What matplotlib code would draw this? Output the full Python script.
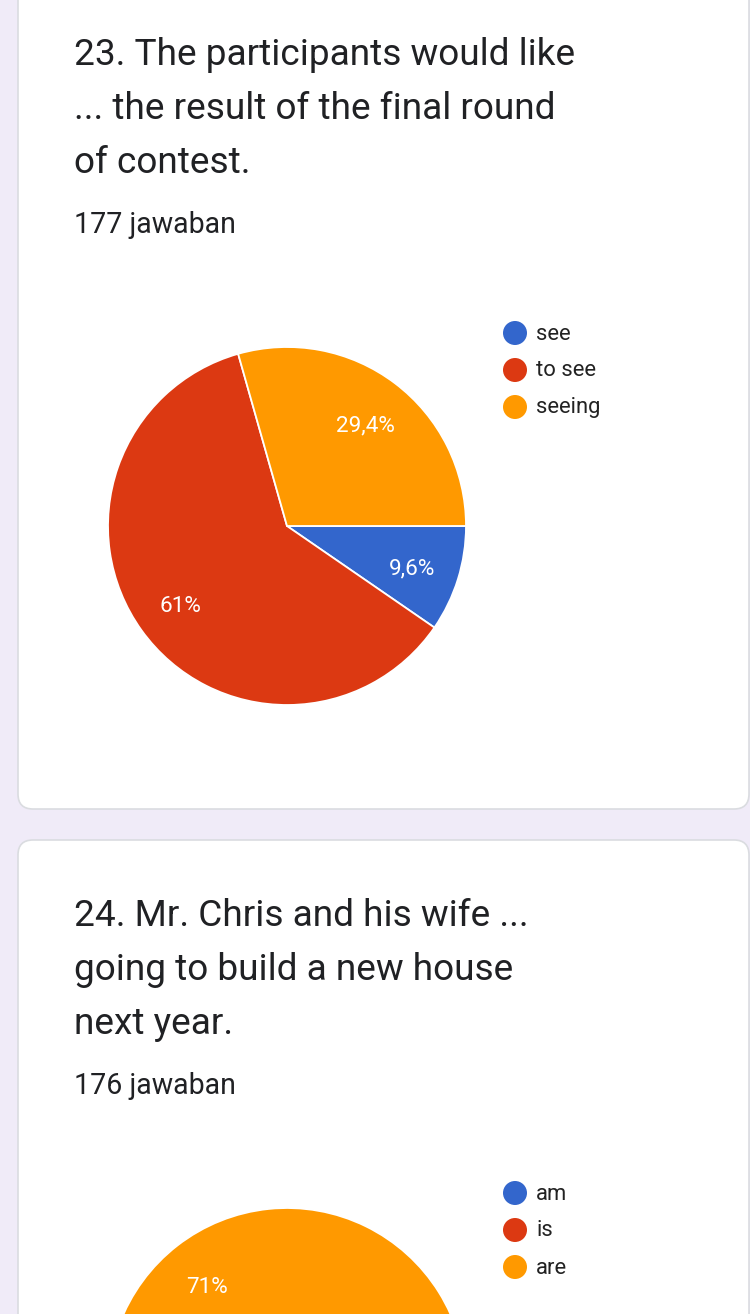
import matplotlib
matplotlib.use("Agg")
import matplotlib.pyplot as plt
from matplotlib.patches import FancyBboxPatch, Ellipse

# ---- data ----
q1_title = ["23. The participants would like", "... the result of the final round", "of contest."]
q1_count = "177 jawaban"
q1_labels = ["see", "to see", "seeing"]
q1_values = [9.6, 61.0, 29.4]

q2_title = ["24. Mr. Chris and his wife ...", "going to build a new house", "next year."]
q2_count = "176 jawaban"
q2_labels = ["am", "is", "are"]
q2_values = [4.5, 24.5, 71.0]

colors = ["#3366cc", "#dc3912", "#ff9900"]

W, H = 750, 1314
DPI = 100
fig = plt.figure(figsize=(W / DPI, H / DPI), dpi=DPI)
fig.patch.set_facecolor("#f0ebf8")

bg = fig.add_axes([0, 0, 1, 1])
bg.set_xlim(0, W)
bg.set_ylim(H, 0)
bg.axis("off")

def px(v):
    return v * 72.0 / DPI

# cards
for (y0, y1) in [(-40, 809), (840, H + 60)]:
    card = FancyBboxPatch((18, y0), 731, y1 - y0,
                          boxstyle="round,pad=0,rounding_size=15",
                          facecolor="white", edgecolor="#dadce0", linewidth=1.2)
    bg.add_patch(card)

title_size = px(37)
count_size = px(28.5)

def draw_block(title, count, base_y):
    for i, line in enumerate(title):
        bg.text(74, base_y + i * 54, line, fontsize=title_size, family="Roboto",
                color="#202124", va="baseline", ha="left")
    bg.text(74, base_y + 168, count, fontsize=count_size, family="Roboto",
            color="#202124", va="baseline", ha="left")

draw_block(q1_title, q1_count, 65)
draw_block(q2_title, q2_count, 926)

def fmt(p):
    s = f"{p:.1f}"
    if s.endswith(".0"):
        s = s[:-2]
    return s.replace(".", ",") + "%"

def draw_pie(values, cx, cy, r, show_min=5.0):
    ax = fig.add_axes([(cx - r) / W, (H - cy - r) / H, 2 * r / W, 2 * r / H])
    wedges, texts, autotexts = ax.pie(
        values, colors=colors, startangle=0, counterclock=False,
        autopct=lambda p: fmt(p) if p >= show_min else "",
        pctdistance=0.73,
        wedgeprops=dict(edgecolor="white", linewidth=1.3),
        textprops=dict(color="white", fontsize=px(22.5), family="Roboto"))
    ax.set_xlim(-1, 1)
    ax.set_ylim(-1, 1)
    ax.set_aspect("auto")
    ax.axis("off")
    for t in autotexts:
        x, y = t.get_position()
        t.set_position((x, y - 4.0 / r))
        # hide labels that fall below the visible page
        if cy - (y * r) > H:
            t.set_visible(False)
    for t in texts:
        t.set_visible(False)
    return ax

draw_pie(q1_values, 287, 526, 179)
draw_pie(q2_values, 287, 1387, 179)

def draw_legend(labels, x, y0):
    for i, lab in enumerate(labels):
        y = y0 + i * 37
        bg.add_patch(Ellipse((x, y), 24, 24, facecolor=colors[i], edgecolor="none"))
        bg.text(x + 21, y + 1, lab, fontsize=px(22), family="Roboto", color="#222222",
                va="center", ha="left")

draw_legend(q1_labels, 515, 333)
draw_legend(q2_labels, 515, 1193)

fig.savefig("out.png", dpi=DPI, facecolor=fig.get_facecolor())
